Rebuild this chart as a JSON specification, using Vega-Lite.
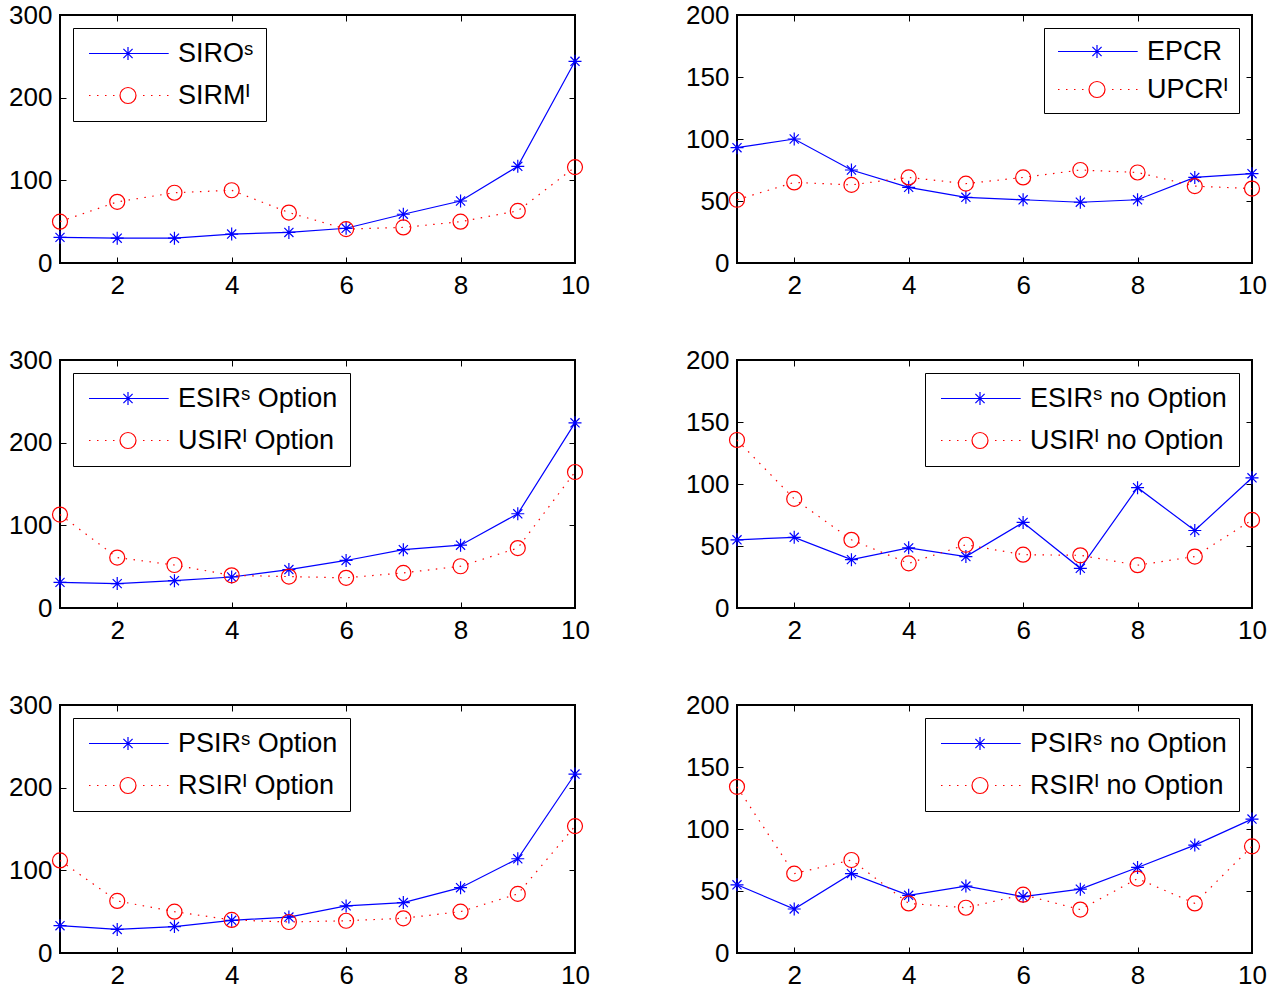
{
"$schema": "https://vega.github.io/schema/vega-lite/v6.json",
"padding": {"left": 7, "top": 1, "right": 0, "bottom": 0},
"datasets": {
"p1": [
{"x":1,"v":31,"k":"S","series":"SIROˢ"},{"x":2,"v":30,"k":"S","series":"SIROˢ"},{"x":3,"v":30,"k":"S","series":"SIROˢ"},{"x":4,"v":35,"k":"S","series":"SIROˢ"},{"x":5,"v":37,"k":"S","series":"SIROˢ"},{"x":6,"v":42,"k":"S","series":"SIROˢ"},{"x":7,"v":59,"k":"S","series":"SIROˢ"},{"x":8,"v":75,"k":"S","series":"SIROˢ"},{"x":9,"v":117,"k":"S","series":"SIROˢ"},{"x":10,"v":244,"k":"S","series":"SIROˢ"},
{"x":1,"v":50,"k":"I","series":"SIRMᴵ"},{"x":2,"v":74,"k":"I","series":"SIRMᴵ"},{"x":3,"v":85,"k":"I","series":"SIRMᴵ"},{"x":4,"v":88,"k":"I","series":"SIRMᴵ"},{"x":5,"v":61,"k":"I","series":"SIRMᴵ"},{"x":6,"v":41,"k":"I","series":"SIRMᴵ"},{"x":7,"v":43,"k":"I","series":"SIRMᴵ"},{"x":8,"v":50,"k":"I","series":"SIRMᴵ"},{"x":9,"v":63,"k":"I","series":"SIRMᴵ"},{"x":10,"v":116,"k":"I","series":"SIRMᴵ"}
],
"p2": [
{"x":1,"v":93,"k":"S","series":"EPCR"},{"x":2,"v":100,"k":"S","series":"EPCR"},{"x":3,"v":75,"k":"S","series":"EPCR"},{"x":4,"v":61,"k":"S","series":"EPCR"},{"x":5,"v":53,"k":"S","series":"EPCR"},{"x":6,"v":51,"k":"S","series":"EPCR"},{"x":7,"v":49,"k":"S","series":"EPCR"},{"x":8,"v":51,"k":"S","series":"EPCR"},{"x":9,"v":69,"k":"S","series":"EPCR"},{"x":10,"v":72,"k":"S","series":"EPCR"},
{"x":1,"v":51,"k":"I","series":"UPCRᴵ"},{"x":2,"v":65,"k":"I","series":"UPCRᴵ"},{"x":3,"v":63,"k":"I","series":"UPCRᴵ"},{"x":4,"v":69,"k":"I","series":"UPCRᴵ"},{"x":5,"v":64,"k":"I","series":"UPCRᴵ"},{"x":6,"v":69,"k":"I","series":"UPCRᴵ"},{"x":7,"v":75,"k":"I","series":"UPCRᴵ"},{"x":8,"v":73,"k":"I","series":"UPCRᴵ"},{"x":9,"v":62,"k":"I","series":"UPCRᴵ"},{"x":10,"v":60,"k":"I","series":"UPCRᴵ"}
],
"p3": [
{"x":1,"v":31,"k":"S","series":"ESIRˢ Option"},{"x":2,"v":29.5,"k":"S","series":"ESIRˢ Option"},{"x":3,"v":33,"k":"S","series":"ESIRˢ Option"},{"x":4,"v":37.5,"k":"S","series":"ESIRˢ Option"},{"x":5,"v":46.5,"k":"S","series":"ESIRˢ Option"},{"x":6,"v":57.5,"k":"S","series":"ESIRˢ Option"},{"x":7,"v":70.5,"k":"S","series":"ESIRˢ Option"},{"x":8,"v":76,"k":"S","series":"ESIRˢ Option"},{"x":9,"v":114,"k":"S","series":"ESIRˢ Option"},{"x":10,"v":224,"k":"S","series":"ESIRˢ Option"},
{"x":1,"v":113,"k":"I","series":"USIRᴵ Option"},{"x":2,"v":61,"k":"I","series":"USIRᴵ Option"},{"x":3,"v":52,"k":"I","series":"USIRᴵ Option"},{"x":4,"v":39.5,"k":"I","series":"USIRᴵ Option"},{"x":5,"v":38,"k":"I","series":"USIRᴵ Option"},{"x":6,"v":36.5,"k":"I","series":"USIRᴵ Option"},{"x":7,"v":42.5,"k":"I","series":"USIRᴵ Option"},{"x":8,"v":50.5,"k":"I","series":"USIRᴵ Option"},{"x":9,"v":72.5,"k":"I","series":"USIRᴵ Option"},{"x":10,"v":164.5,"k":"I","series":"USIRᴵ Option"}
],
"p4": [
{"x":1,"v":55,"k":"S","series":"ESIRˢ no Option"},{"x":2,"v":57,"k":"S","series":"ESIRˢ no Option"},{"x":3,"v":39,"k":"S","series":"ESIRˢ no Option"},{"x":4,"v":48.5,"k":"S","series":"ESIRˢ no Option"},{"x":5,"v":41.5,"k":"S","series":"ESIRˢ no Option"},{"x":6,"v":69,"k":"S","series":"ESIRˢ no Option"},{"x":7,"v":32,"k":"S","series":"ESIRˢ no Option"},{"x":8,"v":97,"k":"S","series":"ESIRˢ no Option"},{"x":9,"v":62.5,"k":"S","series":"ESIRˢ no Option"},{"x":10,"v":105,"k":"S","series":"ESIRˢ no Option"},
{"x":1,"v":135.5,"k":"I","series":"USIRᴵ no Option"},{"x":2,"v":88,"k":"I","series":"USIRᴵ no Option"},{"x":3,"v":55,"k":"I","series":"USIRᴵ no Option"},{"x":4,"v":36,"k":"I","series":"USIRᴵ no Option"},{"x":5,"v":51,"k":"I","series":"USIRᴵ no Option"},{"x":6,"v":43,"k":"I","series":"USIRᴵ no Option"},{"x":7,"v":42.5,"k":"I","series":"USIRᴵ no Option"},{"x":8,"v":34.5,"k":"I","series":"USIRᴵ no Option"},{"x":9,"v":41.5,"k":"I","series":"USIRᴵ no Option"},{"x":10,"v":71,"k":"I","series":"USIRᴵ no Option"}
],
"p5": [
{"x":1,"v":33,"k":"S","series":"PSIRˢ Option"},{"x":2,"v":28.5,"k":"S","series":"PSIRˢ Option"},{"x":3,"v":32,"k":"S","series":"PSIRˢ Option"},{"x":4,"v":39.5,"k":"S","series":"PSIRˢ Option"},{"x":5,"v":43.5,"k":"S","series":"PSIRˢ Option"},{"x":6,"v":57,"k":"S","series":"PSIRˢ Option"},{"x":7,"v":61,"k":"S","series":"PSIRˢ Option"},{"x":8,"v":79,"k":"S","series":"PSIRˢ Option"},{"x":9,"v":114,"k":"S","series":"PSIRˢ Option"},{"x":10,"v":216.5,"k":"S","series":"PSIRˢ Option"},
{"x":1,"v":112,"k":"I","series":"RSIRᴵ Option"},{"x":2,"v":63,"k":"I","series":"RSIRᴵ Option"},{"x":3,"v":50,"k":"I","series":"RSIRᴵ Option"},{"x":4,"v":40,"k":"I","series":"RSIRᴵ Option"},{"x":5,"v":37.5,"k":"I","series":"RSIRᴵ Option"},{"x":6,"v":39,"k":"I","series":"RSIRᴵ Option"},{"x":7,"v":42,"k":"I","series":"RSIRᴵ Option"},{"x":8,"v":50,"k":"I","series":"RSIRᴵ Option"},{"x":9,"v":71.5,"k":"I","series":"RSIRᴵ Option"},{"x":10,"v":153.5,"k":"I","series":"RSIRᴵ Option"}
],
"p6": [
{"x":1,"v":55,"k":"S","series":"PSIRˢ no Option"},{"x":2,"v":35.5,"k":"S","series":"PSIRˢ no Option"},{"x":3,"v":64,"k":"S","series":"PSIRˢ no Option"},{"x":4,"v":46.5,"k":"S","series":"PSIRˢ no Option"},{"x":5,"v":54,"k":"S","series":"PSIRˢ no Option"},{"x":6,"v":45.5,"k":"S","series":"PSIRˢ no Option"},{"x":7,"v":51.5,"k":"S","series":"PSIRˢ no Option"},{"x":8,"v":69,"k":"S","series":"PSIRˢ no Option"},{"x":9,"v":87,"k":"S","series":"PSIRˢ no Option"},{"x":10,"v":108,"k":"S","series":"PSIRˢ no Option"},
{"x":1,"v":134,"k":"I","series":"RSIRᴵ no Option"},{"x":2,"v":64,"k":"I","series":"RSIRᴵ no Option"},{"x":3,"v":75,"k":"I","series":"RSIRᴵ no Option"},{"x":4,"v":40,"k":"I","series":"RSIRᴵ no Option"},{"x":5,"v":36.5,"k":"I","series":"RSIRᴵ no Option"},{"x":6,"v":47,"k":"I","series":"RSIRᴵ no Option"},{"x":7,"v":35,"k":"I","series":"RSIRᴵ no Option"},{"x":8,"v":60,"k":"I","series":"RSIRᴵ no Option"},{"x":9,"v":40,"k":"I","series":"RSIRᴵ no Option"},{"x":10,"v":86,"k":"I","series":"RSIRᴵ no Option"}
]
},
"config": {
"view": {"stroke": "black", "strokeWidth": 2},
"axis": {"domain": false, "grid": false, "labelFont": "Liberation Sans", "labelFontSize": 26, "labelColor": "black", "tickColor": "black", "tickWidth": 1, "tickSize": -6, "labelFlush": false, "labelOverlap": false},
"axisX": {"labelPadding": 15},
"axisY": {"labelPadding": 14},
"legend": {"labelFont": "Liberation Sans", "labelFontSize": 27, "labelColor": "black", "strokeColor": "black", "fillColor": "white", "padding": 12, "labelLimit": 0, "symbolStrokeWidth": 1.2, "symbolSize": 400, "labelOffset": 66, "rowPadding": 14, "offset": 13}
},
"columns": 2,
"spacing": {"row": 97, "column": 162},
"bounds": "flush",
"resolve": {"scale": {"shape": "independent", "stroke": "independent"}, "legend": {"shape": "independent", "stroke": "independent"}},
"concat": [
{"width": 515, "height": 248, "data": {"name": "p1"},
 "layer": [
  {"transform": [{"filter": "datum.k == 'S'"}], "mark": {"type": "line", "color": "#0000ff", "strokeWidth": 1.2},
   "encoding": {"x": {"field": "x", "type": "quantitative", "scale": {"domain": [1, 10], "nice": false, "zero": false}, "axis": {"orient": "bottom", "values": [2,4,6,8,10], "title": null}},
                "y": {"field": "v", "type": "quantitative", "scale": {"domain": [0, 300], "nice": false}, "axis": {"orient": "left", "values": [0,100,200,300], "title": null}}}},
  {"transform": [{"filter": "datum.k == 'I'"}], "mark": {"type": "line", "color": "#ff0000", "strokeWidth": 1.2, "strokeDash": [1.5, 6.5]},
   "encoding": {"x": {"field": "x", "type": "quantitative", "axis": {"orient": "top", "values": [2,4,6,8,10], "labels": false, "title": null}},
                "y": {"field": "v", "type": "quantitative", "axis": {"orient": "right", "values": [0,100,200,300], "labels": false, "title": null}}}},
  {"transform": [{"filter": "datum.k == 'S'"}], "mark": {"type": "point", "shape": "M-1,0H1M0,-1V1M-0.7,-0.7L0.7,0.7M-0.7,0.7L0.7,-0.7", "size": 169, "color": "#0000ff", "filled": false, "strokeWidth": 1.2, "opacity": 1},
   "encoding": {"x": {"field": "x", "type": "quantitative", "axis": null}, "y": {"field": "v", "type": "quantitative", "axis": null}}},
  {"transform": [{"filter": "datum.k == 'I'"}], "mark": {"type": "point", "shape": "circle", "size": 225, "color": "#ff0000", "filled": false, "strokeWidth": 1.2, "opacity": 1},
   "encoding": {"x": {"field": "x", "type": "quantitative", "axis": null}, "y": {"field": "v", "type": "quantitative", "axis": null}}},
  {"transform": [{"filter": "false"}], "mark": {"type": "point", "filled": false, "opacity": 1},
   "encoding": {
    "shape": {"field": "series", "type": "nominal", "scale": {"domain": ["SIROˢ", "SIRMᴵ"], "range": ["M-0.95,0H7.02M2.95,-0.65V0.65M2.3,0H3.6M2.49,-0.46L3.41,0.46M2.49,0.46L3.41,-0.46", "M-0.95,0h0.15M-0.15,0h0.15M0.65,0h0.15M1.45,0h0.15M3.75,0A0.8,0.8,0,1,1,2.15,0A0.8,0.8,0,1,1,3.75,0M4.45,0h0.15M5.25,0h0.15M6.05,0h0.15M6.85,0h0.15"]}, "legend": {"title": null, "orient": "top-left"}},
    "stroke": {"field": "series", "type": "nominal", "scale": {"domain": ["SIROˢ", "SIRMᴵ"], "range": ["#0000ff", "#ff0000"]}, "legend": {"title": null, "orient": "top-left"}}}}
 ],
 "resolve": {"axis": {"x": "independent", "y": "independent"}}},
{"width": 515, "height": 248, "data": {"name": "p2"},
 "layer": [
  {"transform": [{"filter": "datum.k == 'S'"}], "mark": {"type": "line", "color": "#0000ff", "strokeWidth": 1.2},
   "encoding": {"x": {"field": "x", "type": "quantitative", "scale": {"domain": [1, 10], "nice": false, "zero": false}, "axis": {"orient": "bottom", "values": [2,4,6,8,10], "title": null}},
                "y": {"field": "v", "type": "quantitative", "scale": {"domain": [0, 200], "nice": false}, "axis": {"orient": "left", "values": [0,50,100,150,200], "title": null}}}},
  {"transform": [{"filter": "datum.k == 'I'"}], "mark": {"type": "line", "color": "#ff0000", "strokeWidth": 1.2, "strokeDash": [1.5, 6.5]},
   "encoding": {"x": {"field": "x", "type": "quantitative", "axis": {"orient": "top", "values": [2,4,6,8,10], "labels": false, "title": null}},
                "y": {"field": "v", "type": "quantitative", "axis": {"orient": "right", "values": [0,50,100,150,200], "labels": false, "title": null}}}},
  {"transform": [{"filter": "datum.k == 'S'"}], "mark": {"type": "point", "shape": "M-1,0H1M0,-1V1M-0.7,-0.7L0.7,0.7M-0.7,0.7L0.7,-0.7", "size": 169, "color": "#0000ff", "filled": false, "strokeWidth": 1.2, "opacity": 1},
   "encoding": {"x": {"field": "x", "type": "quantitative", "axis": null}, "y": {"field": "v", "type": "quantitative", "axis": null}}},
  {"transform": [{"filter": "datum.k == 'I'"}], "mark": {"type": "point", "shape": "circle", "size": 225, "color": "#ff0000", "filled": false, "strokeWidth": 1.2, "opacity": 1},
   "encoding": {"x": {"field": "x", "type": "quantitative", "axis": null}, "y": {"field": "v", "type": "quantitative", "axis": null}}},
  {"transform": [{"filter": "false"}], "mark": {"type": "point", "filled": false, "opacity": 1},
   "encoding": {
    "shape": {"field": "series", "type": "nominal", "scale": {"domain": ["EPCR", "UPCRᴵ"], "range": ["M-0.95,0H7.02M2.95,-0.65V0.65M2.3,0H3.6M2.49,-0.46L3.41,0.46M2.49,0.46L3.41,-0.46", "M-0.95,0h0.15M-0.15,0h0.15M0.65,0h0.15M1.45,0h0.15M3.75,0A0.8,0.8,0,1,1,2.15,0A0.8,0.8,0,1,1,3.75,0M4.45,0h0.15M5.25,0h0.15M6.05,0h0.15M6.85,0h0.15"]}, "legend": {"title": null, "orient": "top-right", "rowPadding": 10, "padding": 10}},
    "stroke": {"field": "series", "type": "nominal", "scale": {"domain": ["EPCR", "UPCRᴵ"], "range": ["#0000ff", "#ff0000"]}, "legend": {"title": null, "orient": "top-right", "rowPadding": 10, "padding": 10}}}}
 ],
 "resolve": {"axis": {"x": "independent", "y": "independent"}}},
{"width": 515, "height": 248, "data": {"name": "p3"},
 "layer": [
  {"transform": [{"filter": "datum.k == 'S'"}], "mark": {"type": "line", "color": "#0000ff", "strokeWidth": 1.2},
   "encoding": {"x": {"field": "x", "type": "quantitative", "scale": {"domain": [1, 10], "nice": false, "zero": false}, "axis": {"orient": "bottom", "values": [2,4,6,8,10], "title": null}},
                "y": {"field": "v", "type": "quantitative", "scale": {"domain": [0, 300], "nice": false}, "axis": {"orient": "left", "values": [0,100,200,300], "title": null}}}},
  {"transform": [{"filter": "datum.k == 'I'"}], "mark": {"type": "line", "color": "#ff0000", "strokeWidth": 1.2, "strokeDash": [1.5, 6.5]},
   "encoding": {"x": {"field": "x", "type": "quantitative", "axis": {"orient": "top", "values": [2,4,6,8,10], "labels": false, "title": null}},
                "y": {"field": "v", "type": "quantitative", "axis": {"orient": "right", "values": [0,100,200,300], "labels": false, "title": null}}}},
  {"transform": [{"filter": "datum.k == 'S'"}], "mark": {"type": "point", "shape": "M-1,0H1M0,-1V1M-0.7,-0.7L0.7,0.7M-0.7,0.7L0.7,-0.7", "size": 169, "color": "#0000ff", "filled": false, "strokeWidth": 1.2, "opacity": 1},
   "encoding": {"x": {"field": "x", "type": "quantitative", "axis": null}, "y": {"field": "v", "type": "quantitative", "axis": null}}},
  {"transform": [{"filter": "datum.k == 'I'"}], "mark": {"type": "point", "shape": "circle", "size": 225, "color": "#ff0000", "filled": false, "strokeWidth": 1.2, "opacity": 1},
   "encoding": {"x": {"field": "x", "type": "quantitative", "axis": null}, "y": {"field": "v", "type": "quantitative", "axis": null}}},
  {"transform": [{"filter": "false"}], "mark": {"type": "point", "filled": false, "opacity": 1},
   "encoding": {
    "shape": {"field": "series", "type": "nominal", "scale": {"domain": ["ESIRˢ Option", "USIRᴵ Option"], "range": ["M-0.95,0H7.02M2.95,-0.65V0.65M2.3,0H3.6M2.49,-0.46L3.41,0.46M2.49,0.46L3.41,-0.46", "M-0.95,0h0.15M-0.15,0h0.15M0.65,0h0.15M1.45,0h0.15M3.75,0A0.8,0.8,0,1,1,2.15,0A0.8,0.8,0,1,1,3.75,0M4.45,0h0.15M5.25,0h0.15M6.05,0h0.15M6.85,0h0.15"]}, "legend": {"title": null, "orient": "top-left"}},
    "stroke": {"field": "series", "type": "nominal", "scale": {"domain": ["ESIRˢ Option", "USIRᴵ Option"], "range": ["#0000ff", "#ff0000"]}, "legend": {"title": null, "orient": "top-left"}}}}
 ],
 "resolve": {"axis": {"x": "independent", "y": "independent"}}},
{"width": 515, "height": 248, "data": {"name": "p4"},
 "layer": [
  {"transform": [{"filter": "datum.k == 'S'"}], "mark": {"type": "line", "color": "#0000ff", "strokeWidth": 1.2},
   "encoding": {"x": {"field": "x", "type": "quantitative", "scale": {"domain": [1, 10], "nice": false, "zero": false}, "axis": {"orient": "bottom", "values": [2,4,6,8,10], "title": null}},
                "y": {"field": "v", "type": "quantitative", "scale": {"domain": [0, 200], "nice": false}, "axis": {"orient": "left", "values": [0,50,100,150,200], "title": null}}}},
  {"transform": [{"filter": "datum.k == 'I'"}], "mark": {"type": "line", "color": "#ff0000", "strokeWidth": 1.2, "strokeDash": [1.5, 6.5]},
   "encoding": {"x": {"field": "x", "type": "quantitative", "axis": {"orient": "top", "values": [2,4,6,8,10], "labels": false, "title": null}},
                "y": {"field": "v", "type": "quantitative", "axis": {"orient": "right", "values": [0,50,100,150,200], "labels": false, "title": null}}}},
  {"transform": [{"filter": "datum.k == 'S'"}], "mark": {"type": "point", "shape": "M-1,0H1M0,-1V1M-0.7,-0.7L0.7,0.7M-0.7,0.7L0.7,-0.7", "size": 169, "color": "#0000ff", "filled": false, "strokeWidth": 1.2, "opacity": 1},
   "encoding": {"x": {"field": "x", "type": "quantitative", "axis": null}, "y": {"field": "v", "type": "quantitative", "axis": null}}},
  {"transform": [{"filter": "datum.k == 'I'"}], "mark": {"type": "point", "shape": "circle", "size": 225, "color": "#ff0000", "filled": false, "strokeWidth": 1.2, "opacity": 1},
   "encoding": {"x": {"field": "x", "type": "quantitative", "axis": null}, "y": {"field": "v", "type": "quantitative", "axis": null}}},
  {"transform": [{"filter": "false"}], "mark": {"type": "point", "filled": false, "opacity": 1},
   "encoding": {
    "shape": {"field": "series", "type": "nominal", "scale": {"domain": ["ESIRˢ no Option", "USIRᴵ no Option"], "range": ["M-0.95,0H7.02M2.95,-0.65V0.65M2.3,0H3.6M2.49,-0.46L3.41,0.46M2.49,0.46L3.41,-0.46", "M-0.95,0h0.15M-0.15,0h0.15M0.65,0h0.15M1.45,0h0.15M3.75,0A0.8,0.8,0,1,1,2.15,0A0.8,0.8,0,1,1,3.75,0M4.45,0h0.15M5.25,0h0.15M6.05,0h0.15M6.85,0h0.15"]}, "legend": {"title": null, "orient": "top-right"}},
    "stroke": {"field": "series", "type": "nominal", "scale": {"domain": ["ESIRˢ no Option", "USIRᴵ no Option"], "range": ["#0000ff", "#ff0000"]}, "legend": {"title": null, "orient": "top-right"}}}}
 ],
 "resolve": {"axis": {"x": "independent", "y": "independent"}}},
{"width": 515, "height": 248, "data": {"name": "p5"},
 "layer": [
  {"transform": [{"filter": "datum.k == 'S'"}], "mark": {"type": "line", "color": "#0000ff", "strokeWidth": 1.2},
   "encoding": {"x": {"field": "x", "type": "quantitative", "scale": {"domain": [1, 10], "nice": false, "zero": false}, "axis": {"orient": "bottom", "values": [2,4,6,8,10], "title": null}},
                "y": {"field": "v", "type": "quantitative", "scale": {"domain": [0, 300], "nice": false}, "axis": {"orient": "left", "values": [0,100,200,300], "title": null}}}},
  {"transform": [{"filter": "datum.k == 'I'"}], "mark": {"type": "line", "color": "#ff0000", "strokeWidth": 1.2, "strokeDash": [1.5, 6.5]},
   "encoding": {"x": {"field": "x", "type": "quantitative", "axis": {"orient": "top", "values": [2,4,6,8,10], "labels": false, "title": null}},
                "y": {"field": "v", "type": "quantitative", "axis": {"orient": "right", "values": [0,100,200,300], "labels": false, "title": null}}}},
  {"transform": [{"filter": "datum.k == 'S'"}], "mark": {"type": "point", "shape": "M-1,0H1M0,-1V1M-0.7,-0.7L0.7,0.7M-0.7,0.7L0.7,-0.7", "size": 169, "color": "#0000ff", "filled": false, "strokeWidth": 1.2, "opacity": 1},
   "encoding": {"x": {"field": "x", "type": "quantitative", "axis": null}, "y": {"field": "v", "type": "quantitative", "axis": null}}},
  {"transform": [{"filter": "datum.k == 'I'"}], "mark": {"type": "point", "shape": "circle", "size": 225, "color": "#ff0000", "filled": false, "strokeWidth": 1.2, "opacity": 1},
   "encoding": {"x": {"field": "x", "type": "quantitative", "axis": null}, "y": {"field": "v", "type": "quantitative", "axis": null}}},
  {"transform": [{"filter": "false"}], "mark": {"type": "point", "filled": false, "opacity": 1},
   "encoding": {
    "shape": {"field": "series", "type": "nominal", "scale": {"domain": ["PSIRˢ Option", "RSIRᴵ Option"], "range": ["M-0.95,0H7.02M2.95,-0.65V0.65M2.3,0H3.6M2.49,-0.46L3.41,0.46M2.49,0.46L3.41,-0.46", "M-0.95,0h0.15M-0.15,0h0.15M0.65,0h0.15M1.45,0h0.15M3.75,0A0.8,0.8,0,1,1,2.15,0A0.8,0.8,0,1,1,3.75,0M4.45,0h0.15M5.25,0h0.15M6.05,0h0.15M6.85,0h0.15"]}, "legend": {"title": null, "orient": "top-left"}},
    "stroke": {"field": "series", "type": "nominal", "scale": {"domain": ["PSIRˢ Option", "RSIRᴵ Option"], "range": ["#0000ff", "#ff0000"]}, "legend": {"title": null, "orient": "top-left"}}}}
 ],
 "resolve": {"axis": {"x": "independent", "y": "independent"}}},
{"width": 515, "height": 248, "data": {"name": "p6"},
 "layer": [
  {"transform": [{"filter": "datum.k == 'S'"}], "mark": {"type": "line", "color": "#0000ff", "strokeWidth": 1.2},
   "encoding": {"x": {"field": "x", "type": "quantitative", "scale": {"domain": [1, 10], "nice": false, "zero": false}, "axis": {"orient": "bottom", "values": [2,4,6,8,10], "title": null}},
                "y": {"field": "v", "type": "quantitative", "scale": {"domain": [0, 200], "nice": false}, "axis": {"orient": "left", "values": [0,50,100,150,200], "title": null}}}},
  {"transform": [{"filter": "datum.k == 'I'"}], "mark": {"type": "line", "color": "#ff0000", "strokeWidth": 1.2, "strokeDash": [1.5, 6.5]},
   "encoding": {"x": {"field": "x", "type": "quantitative", "axis": {"orient": "top", "values": [2,4,6,8,10], "labels": false, "title": null}},
                "y": {"field": "v", "type": "quantitative", "axis": {"orient": "right", "values": [0,50,100,150,200], "labels": false, "title": null}}}},
  {"transform": [{"filter": "datum.k == 'S'"}], "mark": {"type": "point", "shape": "M-1,0H1M0,-1V1M-0.7,-0.7L0.7,0.7M-0.7,0.7L0.7,-0.7", "size": 169, "color": "#0000ff", "filled": false, "strokeWidth": 1.2, "opacity": 1},
   "encoding": {"x": {"field": "x", "type": "quantitative", "axis": null}, "y": {"field": "v", "type": "quantitative", "axis": null}}},
  {"transform": [{"filter": "datum.k == 'I'"}], "mark": {"type": "point", "shape": "circle", "size": 225, "color": "#ff0000", "filled": false, "strokeWidth": 1.2, "opacity": 1},
   "encoding": {"x": {"field": "x", "type": "quantitative", "axis": null}, "y": {"field": "v", "type": "quantitative", "axis": null}}},
  {"transform": [{"filter": "false"}], "mark": {"type": "point", "filled": false, "opacity": 1},
   "encoding": {
    "shape": {"field": "series", "type": "nominal", "scale": {"domain": ["PSIRˢ no Option", "RSIRᴵ no Option"], "range": ["M-0.95,0H7.02M2.95,-0.65V0.65M2.3,0H3.6M2.49,-0.46L3.41,0.46M2.49,0.46L3.41,-0.46", "M-0.95,0h0.15M-0.15,0h0.15M0.65,0h0.15M1.45,0h0.15M3.75,0A0.8,0.8,0,1,1,2.15,0A0.8,0.8,0,1,1,3.75,0M4.45,0h0.15M5.25,0h0.15M6.05,0h0.15M6.85,0h0.15"]}, "legend": {"title": null, "orient": "top-right"}},
    "stroke": {"field": "series", "type": "nominal", "scale": {"domain": ["PSIRˢ no Option", "RSIRᴵ no Option"], "range": ["#0000ff", "#ff0000"]}, "legend": {"title": null, "orient": "top-right"}}}}
 ],
 "resolve": {"axis": {"x": "independent", "y": "independent"}}}
]
}
